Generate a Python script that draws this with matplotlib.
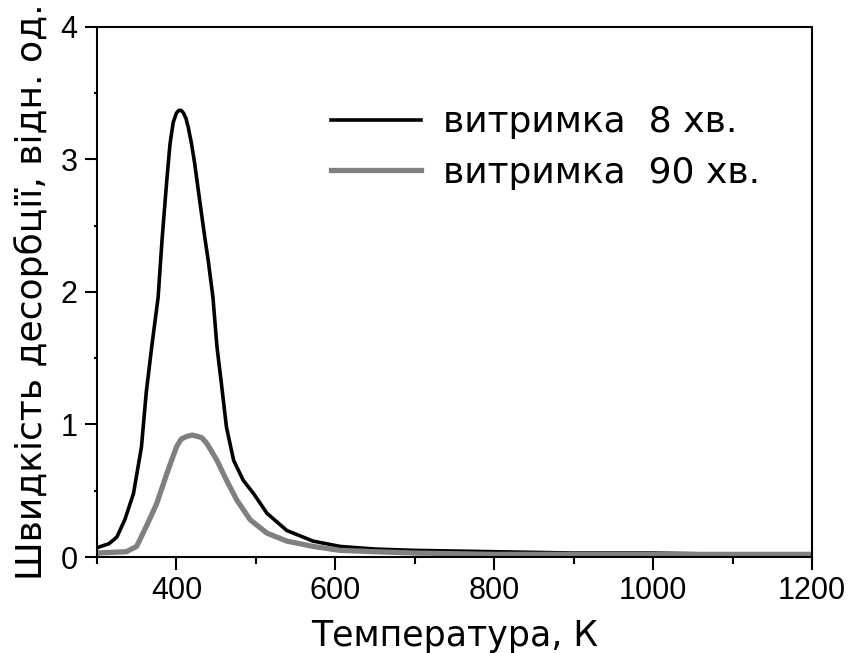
import numpy as np
import matplotlib
matplotlib.use("Agg")
import matplotlib.pyplot as plt
from matplotlib.ticker import MultipleLocator

# TDS spectra, desorption rate vs temperature
t_8 = [300, 315, 325, 335, 346, 356, 362, 369, 377, 382, 388, 392, 396, 400, 403, 406, 409, 412, 415, 419,
       423, 430, 436, 440, 446, 451, 457, 463, 472, 484, 497, 514, 539, 572, 606, 650, 700, 800, 900,
       1000, 1100, 1200]
v_8 = [0.07, 0.10, 0.15, 0.28, 0.48, 0.83, 1.24, 1.59, 1.96, 2.40, 2.85, 3.12, 3.28, 3.35, 3.37, 3.37, 3.35,
       3.31, 3.24, 3.12, 2.97, 2.66, 2.40, 2.24, 1.96, 1.59, 1.29, 0.98, 0.73, 0.58, 0.48, 0.33, 0.20, 0.12,
       0.08, 0.06, 0.05, 0.04, 0.03, 0.03, 0.02, 0.02]

t_90 = [300, 337, 350, 362, 375, 388, 400, 406, 413, 420, 427, 432, 438, 451, 463, 476, 493, 514, 539, 572,
        606, 650, 700, 800, 900, 1000, 1100, 1200]
v_90 = [0.03, 0.04, 0.08, 0.23, 0.40, 0.63, 0.83, 0.89, 0.91, 0.92, 0.91, 0.90, 0.86, 0.73, 0.58, 0.43, 0.28,
        0.18, 0.12, 0.08, 0.05, 0.04, 0.03, 0.02, 0.02, 0.02, 0.02, 0.02]

fig = plt.figure(figsize=(8.52, 6.53), dpi=100)
ax = fig.add_axes([0.1138, 0.147, 0.8392, 0.8117])

ax.plot(t_8, v_8, color="black", lw=2.6, label="витримка  8 хв.")
ax.plot(t_90, v_90, color="#808080", lw=3.8, label="витримка  90 хв.")

ax.set_xlim(300, 1200)
ax.set_ylim(0, 4)
ax.xaxis.set_major_locator(MultipleLocator(200))
ax.xaxis.set_minor_locator(MultipleLocator(100))
ax.yaxis.set_major_locator(MultipleLocator(1))
ax.yaxis.set_minor_locator(MultipleLocator(0.5))

for s in ax.spines.values():
    s.set_linewidth(1.5)
ax.tick_params(which="major", direction="out", length=9, width=1.5, labelsize=22, pad=5)
ax.tick_params(which="minor", direction="out", length=5, width=1.5)
ax.tick_params(axis="y", which="minor", length=2)
for lbl in ax.get_xticklabels() + ax.get_yticklabels():
    lbl.set_family("Liberation Sans")

ax.set_xlabel("Температура, К", fontsize=25, family="DejaVu Sans", labelpad=9)
ax.set_ylabel("Швидкість десорбції, відн. од.", fontsize=26, family="DejaVu Sans", labelpad=8)

leg = ax.legend(loc="upper right", frameon=False, fontsize=26, handlelength=2.5,
                bbox_to_anchor=(0.958, 0.893), labelspacing=0.45, handletextpad=0.6,
                borderaxespad=0.2)

fig.savefig("out.png", dpi=100)
